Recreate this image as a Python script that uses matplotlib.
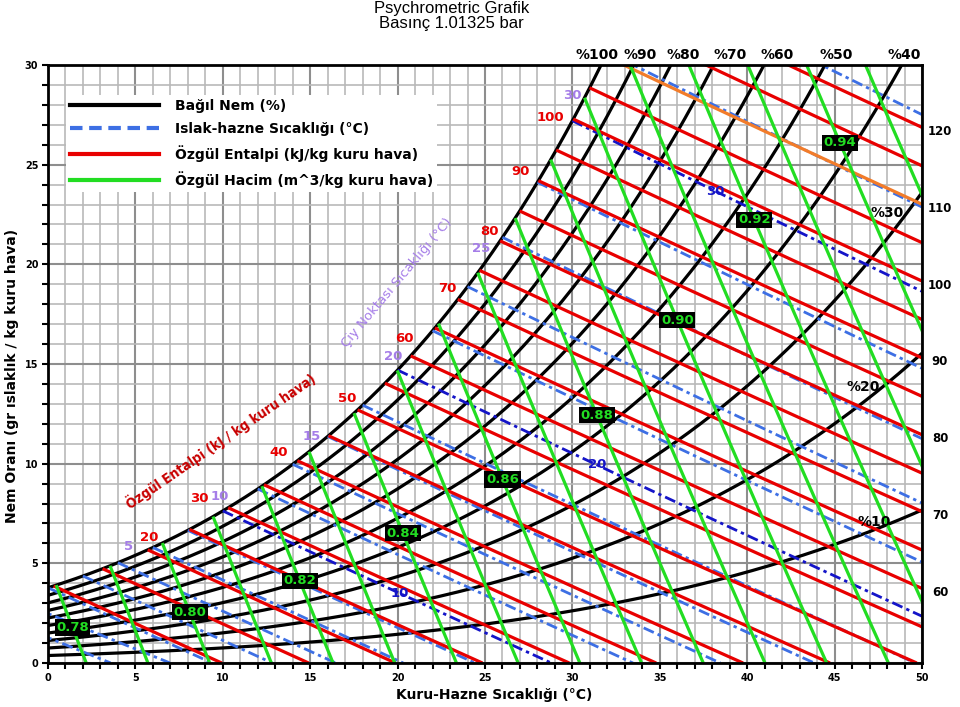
import numpy as np
import matplotlib
matplotlib.use("Agg")
import matplotlib.pyplot as plt
from matplotlib.lines import Line2D
from matplotlib.ticker import MultipleLocator

# ---------------- data ----------------
PRESSURE_KPA = 101.325
RH_LEVELS = [10, 20, 30, 40, 50, 60, 70, 80, 90, 100]
ENTHALPY_LEVELS = [10, 15, 20, 25, 30, 35, 40, 45, 50, 55, 60, 65, 70,
                   75, 80, 85, 90, 95, 100, 105, 110, 115, 120]
HIGHLIGHT_ENTHALPY = 110
WETBULB_LEVELS = [-4, -2, 0, 2, 4, 6, 8, 10, 12, 14, 16, 18, 20, 22, 24,
                  26, 28, 30, 32, 34]
WETBULB_DARK = [10, 20, 30]
VOLUME_LEVELS = [0.78, 0.79, 0.80, 0.81, 0.82, 0.83, 0.84, 0.85, 0.86,
                 0.87, 0.88, 0.89, 0.90, 0.91, 0.92, 0.93, 0.94, 0.95]
VOLUME_LABELS = [0.78, 0.80, 0.82, 0.84, 0.86, 0.88, 0.90, 0.92, 0.94]
DEWPOINT_LABELS = [5, 10, 15, 20, 25, 30]
ENTHALPY_SAT_LABELS = [20, 30, 40, 50, 60, 70, 80, 90, 100]
ENTHALPY_EDGE_LABELS = [60, 70, 80, 90, 100, 110, 120]
WETBULB_LABELS = [10, 20, 30]
RH_TOP_LABELS = [100, 90, 80, 70, 60, 50, 40]
RH_INNER_LABELS = [30, 20, 10]
X_TICKS = [0, 5, 10, 15, 20, 25, 30, 35, 40, 45, 50]
Y_TICKS = [0, 5, 10, 15, 20, 25, 30]

LEGEND_LABELS = ["Bağıl Nem (%)", "Islak-hazne Sıcaklığı (°C)",
                 "Özgül Entalpi (kJ/kg kuru hava)",
                 "Özgül Hacim (m^3/kg kuru hava)"]

# ---------------- layout (label placement) ----------------
VOLUME_LABEL_T = [1.4, 8.1, 14.4, 20.3, 26.0, 31.4, 36.0, 40.4, 45.3]
WETBULB_LABEL_T = [20.1, 31.4, 38.2]
RH_INNER_LABEL_W = [22.6, 13.85, 7.07]
RH_TOP_LABEL_T = [31.4, 33.9, 36.35, 39.0, 41.7, 45.1, 49.0]
ENTHALPY_LABEL_OFFSET_PX = [(15, 3), (-16, 0), (-5, -1), (3, 2), (7, 8),
                            (3, 1), (3, 0), (-5, 0), (-5, -8)]
DEWPOINT_LABEL_OFFSET_PX = [(-7, 9), (-3, 14), (1, 14), (-4, 14), (-4, 14),
                            (0, 25)]

# ---------------- colours ----------------
C_RH = "#000000"
C_WB = "#3d6fe4"
C_WB_DARK = "#1414c8"
C_H = "#e80000"
C_H_HI = "#f27c2a"
C_V = "#22dd22"
C_DEW = "#a57de8"


# ---------------- psychrometric helpers ----------------
P_PA = PRESSURE_KPA * 1000.0


def pws(T):
    T = np.asarray(T, dtype=float)
    K = T + 273.15
    lw = (-5.8002206e3 / K + 1.3914993 - 4.8640239e-2 * K + 4.1764768e-5 * K**2
          - 1.4452093e-8 * K**3 + 6.5459673 * np.log(K))
    li = (-5.6745359e3 / K + 6.3925247 - 9.677843e-3 * K + 6.2215701e-7 * K**2
          + 2.0747825e-9 * K**3 - 9.484024e-13 * K**4 + 4.1635019 * np.log(K))
    return np.exp(np.where(T >= 0, lw, li))


def w_from_pw(pw):
    return 622.0 * pw / (P_PA - pw)  # g/kg


def w_sat(T):
    return w_from_pw(pws(T))


TG = np.linspace(-6, 60, 13201)
WS_G = w_sat(TG)


def w_enthalpy(h, T):
    return 1000.0 * (h - 1.006 * T) / (2501.0 + 1.86 * T)


def w_wetbulb(t, T):
    ws_t = w_sat(t) / 1000.0
    if t >= 0:
        w = ((2501.0 - 2.326 * t) * ws_t - 1.006 * (T - t)) / (2501.0 + 1.86 * T - 4.186 * t)
    else:
        w = ((2830.0 - 0.24 * t) * ws_t - 1.006 * (T - t)) / (2830.0 + 1.86 * T - 2.1 * t)
    return 1000.0 * w


def w_volume(v, T):
    return 1000.0 * (v * PRESSURE_KPA / (0.287042 * (T + 273.15)) - 1.0) / 1.607858


def sat_crossing(wfun):
    """first temperature where a descending line meets the saturation curve"""
    wl = wfun(TG)
    d = wl - WS_G
    idx = np.where((d[:-1] > 0) & (d[1:] <= 0))[0]
    i = idx[0]
    f = d[i] / (d[i] - d[i + 1])
    Tc = TG[i] + f * (TG[i + 1] - TG[i])
    return Tc, float(wfun(np.array(Tc)))


# ---------------- figure ----------------
fig = plt.figure(figsize=(9.6, 7.07), dpi=100)
ax = fig.add_axes([48 / 960, 44 / 707, 874 / 960, 598 / 707])
ax.set_xlim(0, 50)
ax.set_ylim(0, 30)

# grid
for x in range(0, 51):
    major = (x % 5 == 0)
    ax.axvline(x, color="#8e8e8e" if major else "#b9b9b9",
               lw=1.5 if major else 1.2, zorder=0.5)
for y in range(0, 31):
    major = (y % 5 == 0)
    ax.axhline(y, color="#8e8e8e" if major else "#b9b9b9",
               lw=1.5 if major else 1.2, zorder=0.5)

LW = 2.3

# relative humidity lines
T_rh = np.linspace(0, 50, 2001)
for rh in RH_LEVELS:
    ax.plot(T_rh, w_from_pw(rh / 100.0 * pws(T_rh)), color=C_RH, lw=LW,
            zorder=2, solid_capstyle="butt")

# wet bulb lines
for t in WETBULB_LEVELS:
    T = np.linspace(t, 60, 3000)
    w = w_wetbulb(t, T)
    m = w >= 0
    dark = t in WETBULB_DARK
    ax.plot(T[m], w[m], color=C_WB_DARK if dark else C_WB, lw=2.0,
            linestyle=(0, (4.0, 1.5, 1.2, 1.5)), zorder=3)

# enthalpy lines
for h in ENTHALPY_LEVELS:
    Tc, wc = sat_crossing(lambda T, h=h: w_enthalpy(h, T))
    T = np.linspace(Tc, h / 1.006, 800)
    w = w_enthalpy(h, T)
    ax.plot(T, w, color=C_H_HI if h == HIGHLIGHT_ENTHALPY else C_H, lw=LW,
            zorder=4, solid_capstyle="butt")

# specific volume lines
for v in VOLUME_LEVELS:
    Tc, wc = sat_crossing(lambda T, v=v: w_volume(v, T))
    Tend = v * PRESSURE_KPA / 0.287042 - 273.15
    T = np.linspace(Tc, Tend, 800)
    ax.plot(T, w_volume(v, T), color=C_V, lw=LW, zorder=5,
            solid_capstyle="butt")

# ---------------- labels ----------------
BOLD = dict(fontfamily="DejaVu Sans", fontweight="bold")

# volume labels
for v, T in zip(VOLUME_LABELS, VOLUME_LABEL_T):
    ax.text(T, w_volume(v, T), f"{v:.2f}", color=C_V, fontsize=9.5, ha="center",
            va="center", zorder=8,
            bbox=dict(boxstyle="square,pad=0.12", fc="black", ec="none"), **BOLD)

# wet bulb labels
for t, T in zip(WETBULB_LABELS, WETBULB_LABEL_T):
    ax.text(T, w_wetbulb(t, T), f"{t}", color=C_WB_DARK, fontsize=9.5,
            ha="center", va="center", zorder=8, **BOLD)

# dew point labels on saturation curve
for t, off in zip(DEWPOINT_LABELS, DEWPOINT_LABEL_OFFSET_PX):
    ax.annotate(f"{t}", xy=(t, float(w_sat(t))), xytext=off,
                textcoords="offset pixels", color=C_DEW, fontsize=9.5,
                ha="center", va="center", zorder=8, annotation_clip=False,
                **BOLD)

# enthalpy labels near saturation curve
for h, off in zip(ENTHALPY_SAT_LABELS, ENTHALPY_LABEL_OFFSET_PX):
    Tc, wc = sat_crossing(lambda T, h=h: w_enthalpy(h, T))
    ax.annotate(f"{h}", xy=(Tc, wc), xytext=(off[0] - 4, off[1] + 3),
                textcoords="offset pixels", color=C_H, fontsize=9.5,
                ha="right", va="bottom", zorder=8, **BOLD)

# enthalpy labels at right edge
for h in ENTHALPY_EDGE_LABELS:
    ax.annotate(f"{h}", xy=(50, w_enthalpy(h, 50.0)), xytext=(18, -4),
                textcoords="offset pixels", color="black", fontsize=8.5,
                ha="center", va="center", annotation_clip=False, **BOLD)

# RH labels along top
for rh, Tx in zip(RH_TOP_LABELS, RH_TOP_LABEL_T):
    ax.annotate(f"%{rh}", xy=(Tx, 30), xytext=(0, 10), textcoords="offset pixels",
                color="black", fontsize=10, ha="center", va="center",
                annotation_clip=False, **BOLD)

# RH labels inside
for rh, wl in zip(RH_INNER_LABELS, RH_INNER_LABEL_W):
    pw = wl * P_PA / (622.0 + wl)
    Tx = float(np.interp(pw / (rh / 100.0), pws(TG), TG))
    ax.annotate(f"%{rh}", xy=(Tx, wl), xytext=(-3, 0), textcoords="offset pixels",
                color="black", fontsize=10, ha="right", va="center", zorder=8,
                **BOLD)

# rotated captions
ax.text(9.9, 11.14, "Özgül Entalpi (kJ / kg kuru hava)", color="#c80000",
        fontsize=10, rotation=34.5, ha="center", va="center", zorder=8,
        fontfamily="DejaVu Sans", fontweight="bold", fontstretch="condensed",
        rotation_mode="anchor")
ax.text(19.95, 19.07, "Çiy Noktası Sıcaklığı (°C)", color=C_DEW, fontsize=9.5,
        rotation=50, ha="center", va="center", zorder=8,
        fontfamily="DejaVu Sans", rotation_mode="anchor")

# legend
handles = [Line2D([], [], color=C_RH, lw=3),
           Line2D([], [], color=C_WB, lw=3, linestyle=(0, (3, 1.6))),
           Line2D([], [], color=C_H, lw=3),
           Line2D([], [], color=C_V, lw=3)]
leg = ax.legend(handles, LEGEND_LABELS, loc="upper left",
                bbox_to_anchor=(0.013, 0.962), handlelength=6.4,
                handletextpad=1.1, labelspacing=0.66, frameon=True,
                fancybox=False, borderpad=0.3, framealpha=1.0,
                prop=dict(family="DejaVu Sans", weight="bold", size=10))
leg.get_frame().set_edgecolor("none")
leg.get_frame().set_facecolor("white")
leg.set_zorder(9)

# axes, ticks
for s in ax.spines.values():
    s.set_linewidth(2)
    s.set_color("black")
    s.set_zorder(10)
ax.set_xticks(X_TICKS)
ax.set_yticks(Y_TICKS)
ax.set_xticklabels([str(x) for x in X_TICKS])
ax.set_yticklabels([str(y) for y in Y_TICKS])
ax.xaxis.set_minor_locator(MultipleLocator(1))
ax.yaxis.set_minor_locator(MultipleLocator(1))
ax.tick_params(which="both", direction="out", length=4, width=1.5,
               labelsize=7, pad=3)
for lab in ax.get_xticklabels() + ax.get_yticklabels():
    lab.set_fontweight("bold")

# titles
fig.text(0.47, 0.998, "Psychrometric Grafik\nBasınç 1.01325 bar", ha="center",
         va="top", fontsize=12, fontfamily="Liberation Sans", linespacing=0.95)
fig.text(494 / 960, 1 - 695 / 707, "Kuru-Hazne Sıcaklığı (°C)", ha="center",
         va="center", fontsize=10, **BOLD)
fig.text(12 / 960, 1 - 376 / 707, "Nem Oranı (gr ıslaklık / kg kuru hava)",
         ha="center", va="center", rotation=90, fontsize=10, **BOLD)

fig.savefig("out.png", dpi=100)
